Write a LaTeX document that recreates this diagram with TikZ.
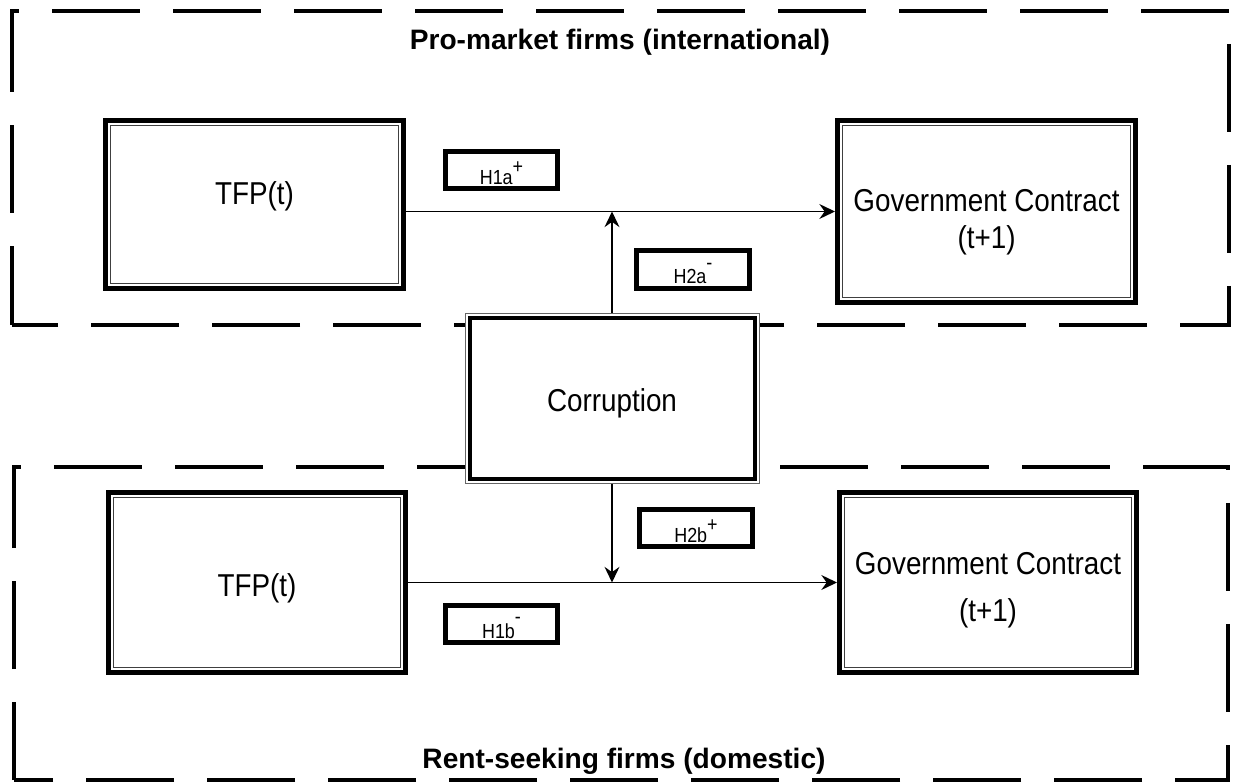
\documentclass[tikz,border=0pt]{standalone}
\usepackage{fontspec}
\setmainfont{Liberation Sans}
\newfontfamily\narrowsans[FakeStretch=0.88]{Liberation Sans}
\usetikzlibrary{arrows.meta}
\pgfdeclarelayer{bg}
\pgfsetlayers{bg,main}
\newcommand{\hsup}[1]{\raisebox{0.5em}{#1}}
\newcommand{\hsub}[1]{\raisebox{0.7em}{#1}}
\tikzset{
        firmframe/.style={line width=2.28pt, dash pattern=on 1.76cm off 0.66cm},
        title/.style={anchor=base, font=\fontsize{16}{19}\selectfont\bfseries},
        varbox/.style={draw, line width=2.85pt, fill=white, inner sep=0pt,
                font=\narrowsans\fontsize{18}{21}\selectfont,
                path picture={\draw[line width=0.57pt, black!75]
                        ([shift={(2.85pt,2.85pt)}]path picture bounding box.south west) rectangle
                        ([shift={(-2.85pt,-2.85pt)}]path picture bounding box.north east);}},
        corrbox/.style={draw=black!60, line width=0.57pt, fill=white, inner sep=0pt,
                font=\narrowsans\fontsize{18}{21}\selectfont,
                path picture={\draw[draw=black, line width=2.28pt]
                        ([shift={(2.56pt,2.56pt)}]path picture bounding box.south west) rectangle
                        ([shift={(-2.56pt,-2.56pt)}]path picture bounding box.north east);}},
        hypbox/.style={draw, line width=2.6pt, minimum width=2.25cm, minimum height=0.75cm,
                inner sep=0pt, text height=16pt, text depth=0pt, font=\narrowsans\fontsize{11.6}{13}\selectfont},
        flow/.style={-{Stealth[length=8.9pt, width=8.5pt, inset=3pt]}, line width=0.85pt}
}
\begin{document}
\begin{tikzpicture}
        \useasboundingbox (0cm, 0cm) rectangle (24.800000cm, 15.640000cm);
        \node (top) [title] at (12.400000cm, 14.640000cm) {Pro-market firms (international)};
        \node (bot) [title] at (12.480000cm, 0.280000cm) {Rent-seeking firms (domestic)};
        \node (t1) [varbox, minimum width=5.96cm, minimum height=3.36cm, text height=10pt, text depth=10pt] at (5.090000cm, 11.550000cm) {TFP(t)};
        \node (g1) [varbox, minimum width=5.96cm, minimum height=3.64cm, text height=10pt, text depth=10pt] at (19.730000cm, 11.410000cm) {\begin{tabular}[t]{@{}c@{}}Government Contract\\(t+1)\end{tabular}};
        \node (t2) [varbox, minimum width=5.94cm, minimum height=3.60cm, text height=15.6pt, text depth=0pt] at (5.140000cm, 3.990000cm) {TFP(t)};
        \node (g2) [varbox, minimum width=5.94cm, minimum height=3.60cm, text height=10pt, text depth=19.4pt] at (19.760000cm, 3.990000cm) {\begin{tabular}[t]{@{}c@{}}Government Contract\\[5.7pt](t+1)\end{tabular}};
        \node (c) [corrbox, minimum width=5.88cm, minimum height=3.40cm, text height=14.5pt, text depth=0pt] at (12.240000cm, 7.670000cm) {Corruption};
        \node (h1a) [hypbox] at (10.030000cm, 12.240000cm) {H1a\hsup{+}};
        \node (h2a) [hypbox] at (13.860000cm, 10.250000cm) {H2a\hsub{-}};
        \node (h2b) [hypbox] at (13.920000cm, 5.080000cm) {H2b\hsup{+}};
        \node (h1b) [hypbox] at (10.030000cm, 3.160000cm) {H1b\hsub{-}};
        \coordinate (ja) at (c.north |- g1.west);
        \coordinate (jb) at (c.south |- g2.west);
        \begin{pgfonlayer}{bg}
                \draw [firmframe, dash phase=0.18cm] (0.240000cm, 9.140000cm) -- (0.240000cm, 15.420000cm) -- (24.580000cm, 15.420000cm) -- (24.580000cm, 9.140000cm) -- cycle;
                \draw [firmframe, dash phase=0.20cm] (0.280000cm, 0.040000cm) -- (0.280000cm, 6.300000cm) -- (24.560000cm, 6.300000cm) -- (24.560000cm, 0.040000cm) -- cycle;
        \end{pgfonlayer}
        \draw (t1.east |- g1.west) edge [flow] (g1.west);
        \draw (c.north) edge [flow] (ja);
        \draw (t2) edge [flow] (g2);
        \draw (c.south) edge [flow] (jb);
\end{tikzpicture}
\end{document}
